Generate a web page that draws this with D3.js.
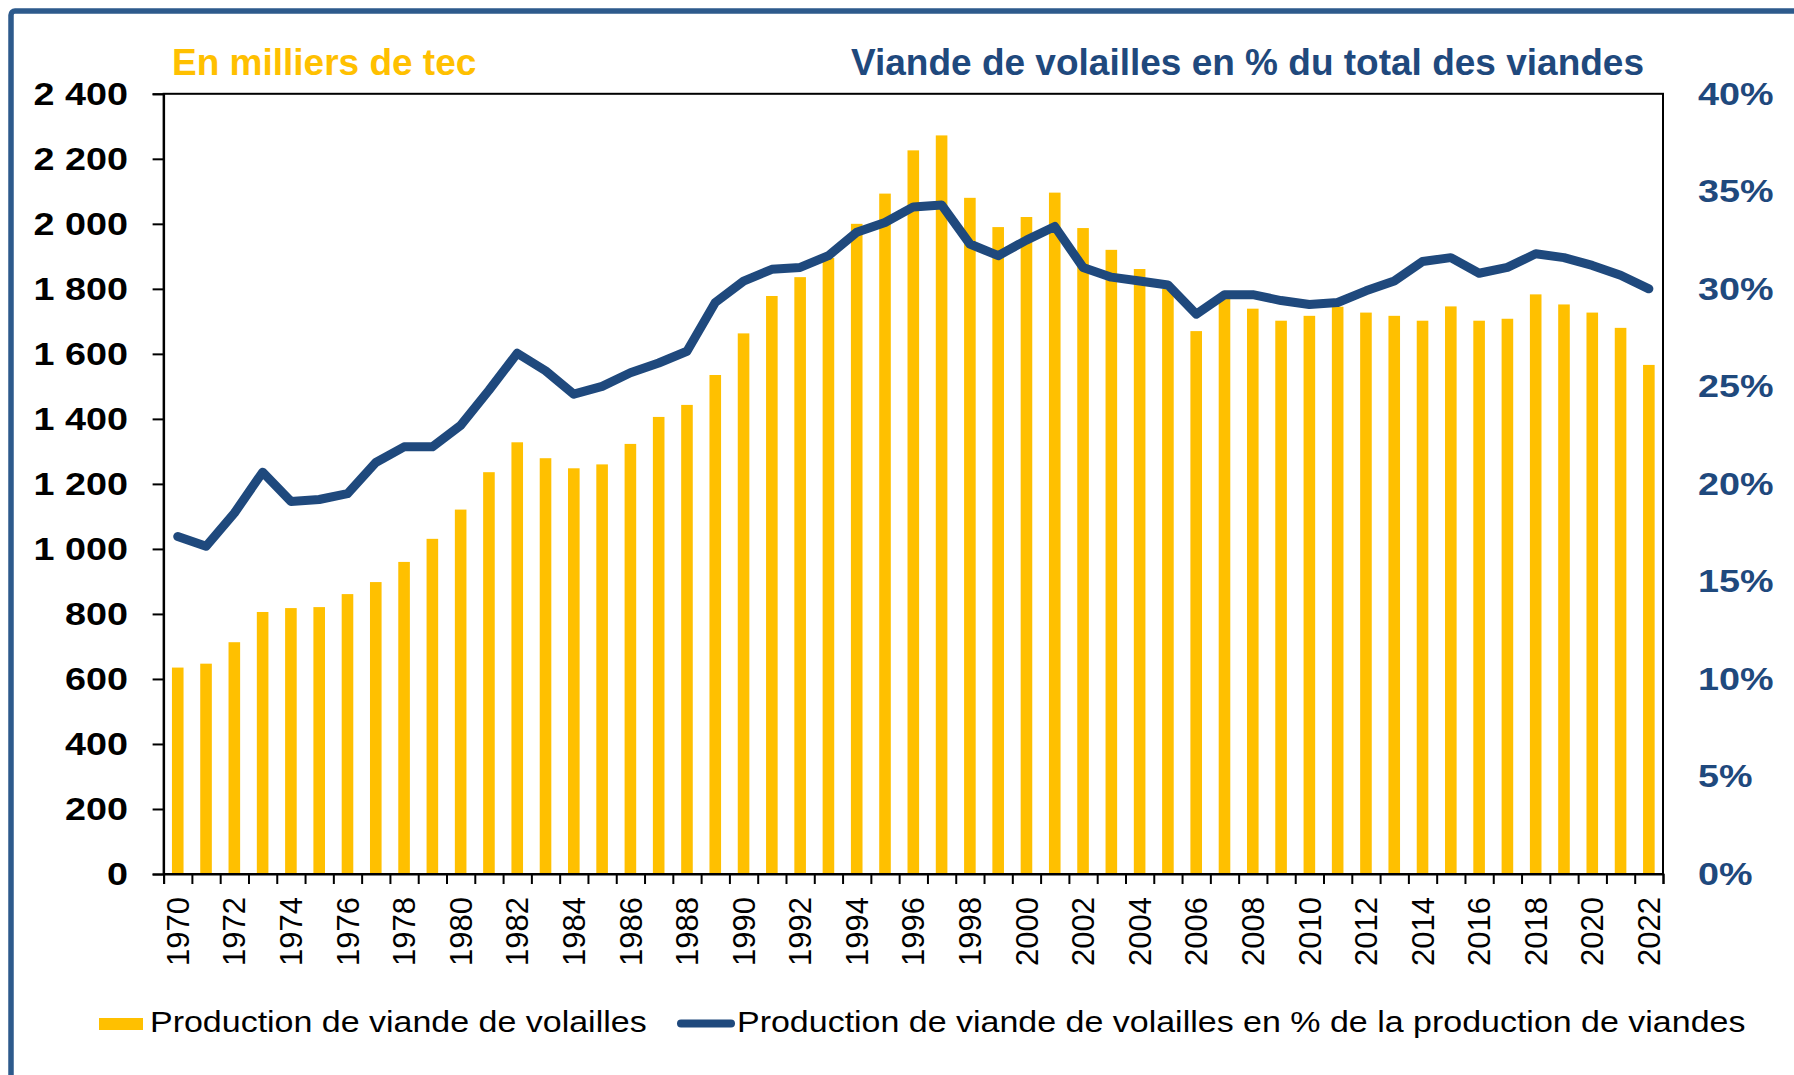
<!DOCTYPE html>
<html>
<head>
<meta charset="utf-8">
<script src="https://cdn.jsdelivr.net/npm/d3@7"></script>
<style>
  body { margin: 0; background: #fff; }
  svg text { font-family: "Liberation Sans", Arial, sans-serif; }
</style>
</head>
<body>
<div id="chart"></div>
<script>
// categories
const years = [1970, 1971, 1972, 1973, 1974, 1975, 1976, 1977, 1978, 1979,
  1980, 1981, 1982, 1983, 1984, 1985, 1986, 1987, 1988, 1989,
  1990, 1991, 1992, 1993, 1994, 1995, 1996, 1997, 1998, 1999,
  2000, 2001, 2002, 2003, 2004, 2005, 2006, 2007, 2008, 2009,
  2010, 2011, 2012, 2013, 2014, 2015, 2016, 2017, 2018, 2019,
  2020, 2021, 2022];

// production de viande de volailles (milliers de tec)
const production = [635, 647, 713, 806, 818, 821, 861, 898, 960, 1031,
  1121, 1236, 1328, 1279, 1248, 1260, 1323, 1406, 1443, 1535,
  1663, 1778, 1836, 1895, 2000, 2093, 2226, 2272, 2080, 1990,
  2021, 2096, 1987, 1920, 1861, 1800, 1670, 1770, 1739, 1702,
  1717, 1745, 1727, 1717, 1702, 1746, 1702, 1708, 1783, 1752,
  1727, 1680, 1566];

// part des volailles dans la production de viandes (%)
const share = [17.3, 16.8, 18.5, 20.6, 19.1, 19.2, 19.5, 21.1, 21.9, 21.9,
  23.0, 24.8, 26.7, 25.8, 24.6, 25.0, 25.7, 26.2, 26.8, 29.3,
  30.4, 31.0, 31.1, 31.7, 32.9, 33.4, 34.2, 34.3, 32.3, 31.7,
  32.5, 33.2, 31.1, 30.6, 30.4, 30.2, 28.7, 29.7, 29.7, 29.4,
  29.2, 29.3, 29.9, 30.4, 31.4, 31.6, 30.8, 31.1, 31.8, 31.6,
  31.2, 30.7, 30.0];

const leftTicks = [0, 200, 400, 600, 800, 1000, 1200, 1400, 1600, 1800, 2000, 2200, 2400];
const rightTicks = [0, 5, 10, 15, 20, 25, 30, 35, 40];
const yearLabels = [1970, 1972, 1974, 1976, 1978, 1980, 1982, 1984, 1986, 1988, 1990,
  1992, 1994, 1996, 1998, 2000, 2002, 2004, 2006, 2008, 2010, 2012, 2014, 2016,
  2018, 2020, 2022];

const titleLeft = "En milliers de tec";
const titleRight = "Viande de volailles en % du total des viandes";
const legendBar = "Production de viande de volailles";
const legendLine = "Production de viande de volailles en % de la production de viandes";

const YELLOW = "#FFC000";
const BLUE = "#1F497D";
const STRETCH = 1.18; // labels look a bit wide in the original

const svg = d3.select("#chart")
  .append("svg")
  .attr("width", 1794)
  .attr("height", 1075);

// outer frame (cut by the picture edge on right & bottom)
svg.append("rect")
  .attr("x", 11).attr("y", 11)
  .attr("width", 1820).attr("height", 1120)
  .attr("rx", 4)
  .attr("fill", "none")
  .attr("stroke", "#2D5A8C")
  .attr("stroke-width", 5.5);

const plotL = 163.6, plotR = 1663, plotT = 93.8, plotB = 874;

const x = d3.scaleBand()
  .domain(years)
  .range([plotL, plotR])
  .padding(0);

const yL = d3.scaleLinear().domain([0, 2400]).range([plotB, plotT]);
const yR = d3.scaleLinear().domain([0, 40]).range([plotB, plotT]);

const barW = x.bandwidth() * 0.41;

// bars
svg.append("g")
  .selectAll("rect")
  .data(years)
  .enter()
  .append("rect")
  .attr("x", (d) => x(d) + (x.bandwidth() - barW) / 2)
  .attr("y", (d, i) => yL(production[i]))
  .attr("width", barW)
  .attr("height", (d, i) => plotB - yL(production[i]))
  .attr("fill", YELLOW);

// line
const line = d3.line()
  .x((d, i) => x(years[i]) + x.bandwidth() / 2)
  .y((d) => yR(d));

svg.append("path")
  .datum(share)
  .attr("d", line)
  .attr("fill", "none")
  .attr("stroke", BLUE)
  .attr("stroke-width", 9)
  .attr("stroke-linejoin", "round")
  .attr("stroke-linecap", "round");

// plot frame
svg.append("rect")
  .attr("x", plotL).attr("y", plotT)
  .attr("width", plotR - plotL).attr("height", plotB - plotT)
  .attr("fill", "none")
  .attr("stroke", "#000")
  .attr("stroke-width", 2);

// left axis
const fmt = (d) => d3.format(",")(d).replace(",", " ");
const axL = svg.append("g")
  .attr("transform", `translate(${plotL},0)`)
  .call(d3.axisLeft(yL).tickValues(leftTicks).tickSize(11).tickFormat(fmt));
axL.select(".domain").attr("stroke", "#000").attr("stroke-width", 2);
axL.selectAll(".tick line").attr("stroke", "#000").attr("stroke-width", 2);
axL.selectAll(".tick text")
  .attr("x", -35.6 / STRETCH)
  .attr("transform", `scale(${STRETCH},1)`)
  .attr("fill", "#000")
  .style("font-size", "32px")
  .style("font-weight", "bold");

// right axis
const axR = svg.append("g")
  .attr("transform", `translate(${plotR},0)`)
  .call(d3.axisRight(yR).tickValues(rightTicks).tickSize(0).tickFormat((d) => d + "%"));
axR.select(".domain").remove();
axR.selectAll(".tick text")
  .attr("x", 35 / STRETCH)
  .attr("transform", `scale(${STRETCH},1)`)
  .attr("fill", BLUE)
  .style("font-size", "32px")
  .style("font-weight", "bold");

// bottom axis: ticks at band boundaries
const edges = d3.scaleLinear().domain([0, years.length]).range([plotL, plotR]);
const axTicks = svg.append("g")
  .attr("transform", `translate(0,${plotB})`)
  .call(d3.axisBottom(edges).tickValues(d3.range(years.length + 1)).tickSize(10).tickFormat(""));
axTicks.select(".domain").attr("stroke", "#000").attr("stroke-width", 2);
axTicks.selectAll(".tick line").attr("stroke", "#000").attr("stroke-width", 2);

// bottom axis: year labels
const axB = svg.append("g")
  .attr("transform", `translate(0,${plotB})`)
  .call(d3.axisBottom(x).tickSize(0).tickFormat((d) => yearLabels.includes(d) ? d : ""));
axB.select(".domain").remove();
axB.selectAll(".tick text")
  .attr("transform", "rotate(-90)")
  .attr("x", -23)
  .attr("y", 0)
  .attr("dy", "0.36em")
  .style("text-anchor", "end")
  .style("font-size", "31px")
  .attr("fill", "#000");

// titles
svg.append("text")
  .attr("x", 172).attr("y", 75)
  .style("font-size", "37px")
  .style("font-weight", "bold")
  .attr("fill", YELLOW)
  .text(titleLeft);

svg.append("text")
  .attr("x", 1644).attr("y", 75)
  .attr("text-anchor", "end")
  .style("font-size", "37px")
  .style("font-weight", "bold")
  .attr("fill", BLUE)
  .text(titleRight);

// legend
svg.append("rect")
  .attr("x", 99).attr("y", 1018)
  .attr("width", 44).attr("height", 12)
  .attr("fill", YELLOW);

svg.append("text")
  .attr("transform", `translate(150,1032) scale(${STRETCH},1)`)
  .style("font-size", "28.8px")
  .attr("fill", "#000")
  .text(legendBar);

svg.append("line")
  .attr("x1", 681).attr("x2", 731)
  .attr("y1", 1023.5).attr("y2", 1023.5)
  .attr("stroke", BLUE)
  .attr("stroke-width", 8)
  .attr("stroke-linecap", "round");

svg.append("text")
  .attr("transform", `translate(737,1032) scale(${STRETCH},1)`)
  .style("font-size", "28.8px")
  .attr("fill", "#000")
  .text(legendLine);
</script>
</body>
</html>
